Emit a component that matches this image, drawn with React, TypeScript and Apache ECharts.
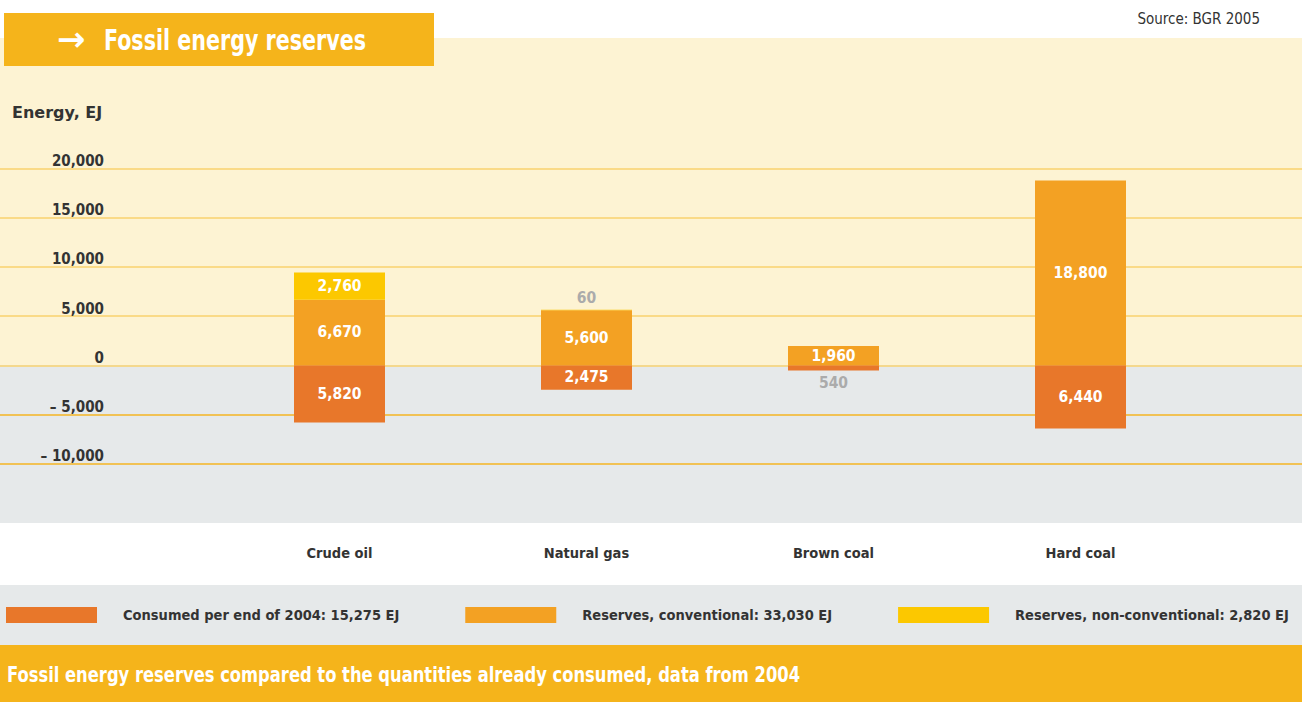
import React, { useEffect, useRef } from "react";
import * as echarts from "echarts";

const categories = ["Crude oil", "Natural gas", "Brown coal", "Hard coal"];
const consumed = [5820, 2475, 540, 6440];
const conventional = [6670, 5600, 1960, 18800];
const nonConventional = [2760, 60, 0, 0];

const yMin = -15000;
const yMax = 35000;
const yInterval = 5000;
const yLabelMax = 20000;
const yLabelMin = -10000;

const C_CONSUMED = "#E8772A";
const C_CONV = "#F3A123";
const C_NONCONV = "#FCC800";
const C_BRAND = "#F5B41B";
const C_CREAM = "#FDF3D3";
const C_GRAY = "#E6E9EA";
const C_TEXT = "#333333";
const FONT = "'Liberation Sans Narrow', 'DejaVu Sans Condensed', 'Arial Narrow', Roboto, sans-serif";

const fmt = (v: number) => Math.abs(v).toLocaleString("en-US");
const sum = (a: number[]) => a.reduce((s, v) => s + v, 0);

function items(vals: number[], sign: number) {
  return vals.map((v) => {
    if (v === 0) return { value: 0, label: { show: false } };
    if (v < 1000)
      return {
        value: sign * v,
        label: { position: "outside", color: "#ABABAB", distance: 4 },
      };
    return { value: sign * v };
  });
}

export default function App() {
  const ref = useRef<HTMLDivElement>(null);
  useEffect(() => {
    if (!ref.current) return;
    const chart = echarts.init(ref.current, null, { renderer: "svg" });
    const top = 21.1;
    const bottom = 189.2;
    const labelCommon = {
      show: true,
      position: "inside",
      color: "#FFFFFF",
      fontFamily: FONT,
      fontWeight: "bold",
      fontSize: 15.5,
      formatter: (p: any) => fmt(p.value),
    };
    const nLines = (yMax - yMin) / yInterval + 1;
    const lineColors: string[] = [];
    for (let i = 0; i < nLines; i++) {
      const v = yMin + i * yInterval;
      if (v > yLabelMax || v < yLabelMin) lineColors.push("rgba(0,0,0,0)");
      else if (v < 0) lineColors.push("#F5B523");
      else lineColors.push("#F9D26E");
    }
    const option: any = {
      animation: false,
      grid: [
        { left: 0, right: 0, top, bottom },
        { left: 216, right: 98, top, bottom },
      ],
      xAxis: [
        { type: "value", gridIndex: 0, min: 0, max: 1, show: false },
        {
          type: "category",
          gridIndex: 1,
          data: categories,
          axisLine: { show: false, onZero: false },
          axisTick: { show: false },
          axisLabel: {
            margin: 40,
            verticalAlign: "middle",
            color: C_TEXT,
            fontFamily: FONT,
            fontWeight: "bold",
            fontSize: 14.5,
          },
        },
      ],
      yAxis: [
        {
          type: "value",
          gridIndex: 0,
          min: yMin,
          max: yMax,
          interval: yInterval,
          axisLine: { show: false },
          axisTick: { show: false },
          splitLine: { show: true, lineStyle: { color: lineColors, width: 1.5 } },
          axisLabel: {
            inside: true,
            margin: 104,
            align: "right",
            verticalAlign: "bottom",
            lineHeight: 15,
            color: C_TEXT,
            fontFamily: FONT,
            fontWeight: "bold",
            fontSize: 15,
            formatter: (v: number) => {
              if (v > yLabelMax || v < yLabelMin) return "";
              if (v < 0) return "– " + fmt(v);
              return fmt(v);
            },
          },
        },
        { type: "value", gridIndex: 1, min: yMin, max: yMax, interval: yInterval, show: false },
      ],
      legend: {
        left: 6,
        top: 607,
        width: 1296,
        padding: 0,
        icon: "rect",
        itemWidth: 91,
        itemHeight: 16,
        itemGap: 66,
        selectedMode: false,
        textStyle: {
          color: C_TEXT,
          fontFamily: FONT,
          fontWeight: "bold",
          fontSize: 14.5,
          lineHeight: 16,
          padding: [0, 0, 0, 21],
        },
      },
      series: [
        {
          name: `Consumed per end of 2004: ${fmt(sum(consumed))} EJ`,
          type: "bar",
          xAxisIndex: 1,
          yAxisIndex: 1,
          stack: "total",
          barWidth: 91,
          itemStyle: { color: C_CONSUMED },
          label: labelCommon,
          data: items(consumed, -1),
        },
        {
          name: `Reserves, conventional: ${fmt(sum(conventional))} EJ`,
          type: "bar",
          xAxisIndex: 1,
          yAxisIndex: 1,
          stack: "total",
          barWidth: 91,
          itemStyle: { color: C_CONV },
          label: labelCommon,
          data: items(conventional, 1),
        },
        {
          name: `Reserves, non-conventional: ${fmt(sum(nonConventional))} EJ`,
          type: "bar",
          xAxisIndex: 1,
          yAxisIndex: 1,
          stack: "total",
          barWidth: 91,
          itemStyle: { color: C_NONCONV },
          label: labelCommon,
          data: items(nonConventional, 1),
        },
      ],
      graphic: {
        elements: [
          { type: "rect", z: -10, shape: { x: 0, y: 38, width: 1302, height: 327 }, style: { fill: C_CREAM } },
          { type: "rect", z: -10, shape: { x: 0, y: 365, width: 1302, height: 158 }, style: { fill: C_GRAY } },
          { type: "rect", z: -10, shape: { x: 0, y: 585, width: 1302, height: 60 }, style: { fill: C_GRAY } },
          { type: "rect", z: -10, shape: { x: 0, y: 645, width: 1302, height: 57 }, style: { fill: C_BRAND } },
          { type: "rect", z: -5, shape: { x: 4, y: 13, width: 430, height: 53 }, style: { fill: C_BRAND } },
          {
            type: "text", z: 10, x: 57, y: 39,
            style: { text: "→", fill: "#FFFFFF", font: `bold 34px 'DejaVu Sans', sans-serif`, verticalAlign: "middle" },
          },
          {
            type: "text", z: 10, x: 104, y: 40, scaleX: 0.82,
            style: { text: "Fossil energy reserves", fill: "#FFFFFF", font: `bold 28px ${FONT}`, verticalAlign: "middle" },
          },
          {
            type: "text", z: 10, x: 1260, y: 19,
            style: { text: "Source: BGR 2005", fill: C_TEXT, font: `15px ${FONT}`, align: "right", verticalAlign: "middle" },
          },
          {
            type: "text", z: 10, x: 12, y: 112,
            style: { text: "Energy, EJ", fill: C_TEXT, font: `bold 16px 'DejaVu Sans', sans-serif`, verticalAlign: "middle" },
          },
          {
            type: "text", z: 10, x: 7, y: 675, scaleX: 0.866,
            style: {
              text: "Fossil energy reserves compared to the quantities already consumed, data from 2004",
              fill: "#FFFFFF", font: `bold 21px ${FONT}`, verticalAlign: "middle",
            },
          },
        ],
      },
    };
    chart.setOption(option);
    return () => chart.dispose();
  }, []);
  return (
    <div
      ref={ref}
      style={{ position: "fixed", left: 0, top: 0, width: 1302, height: 702, background: "#FFFFFF" }}
    />
  );
}
